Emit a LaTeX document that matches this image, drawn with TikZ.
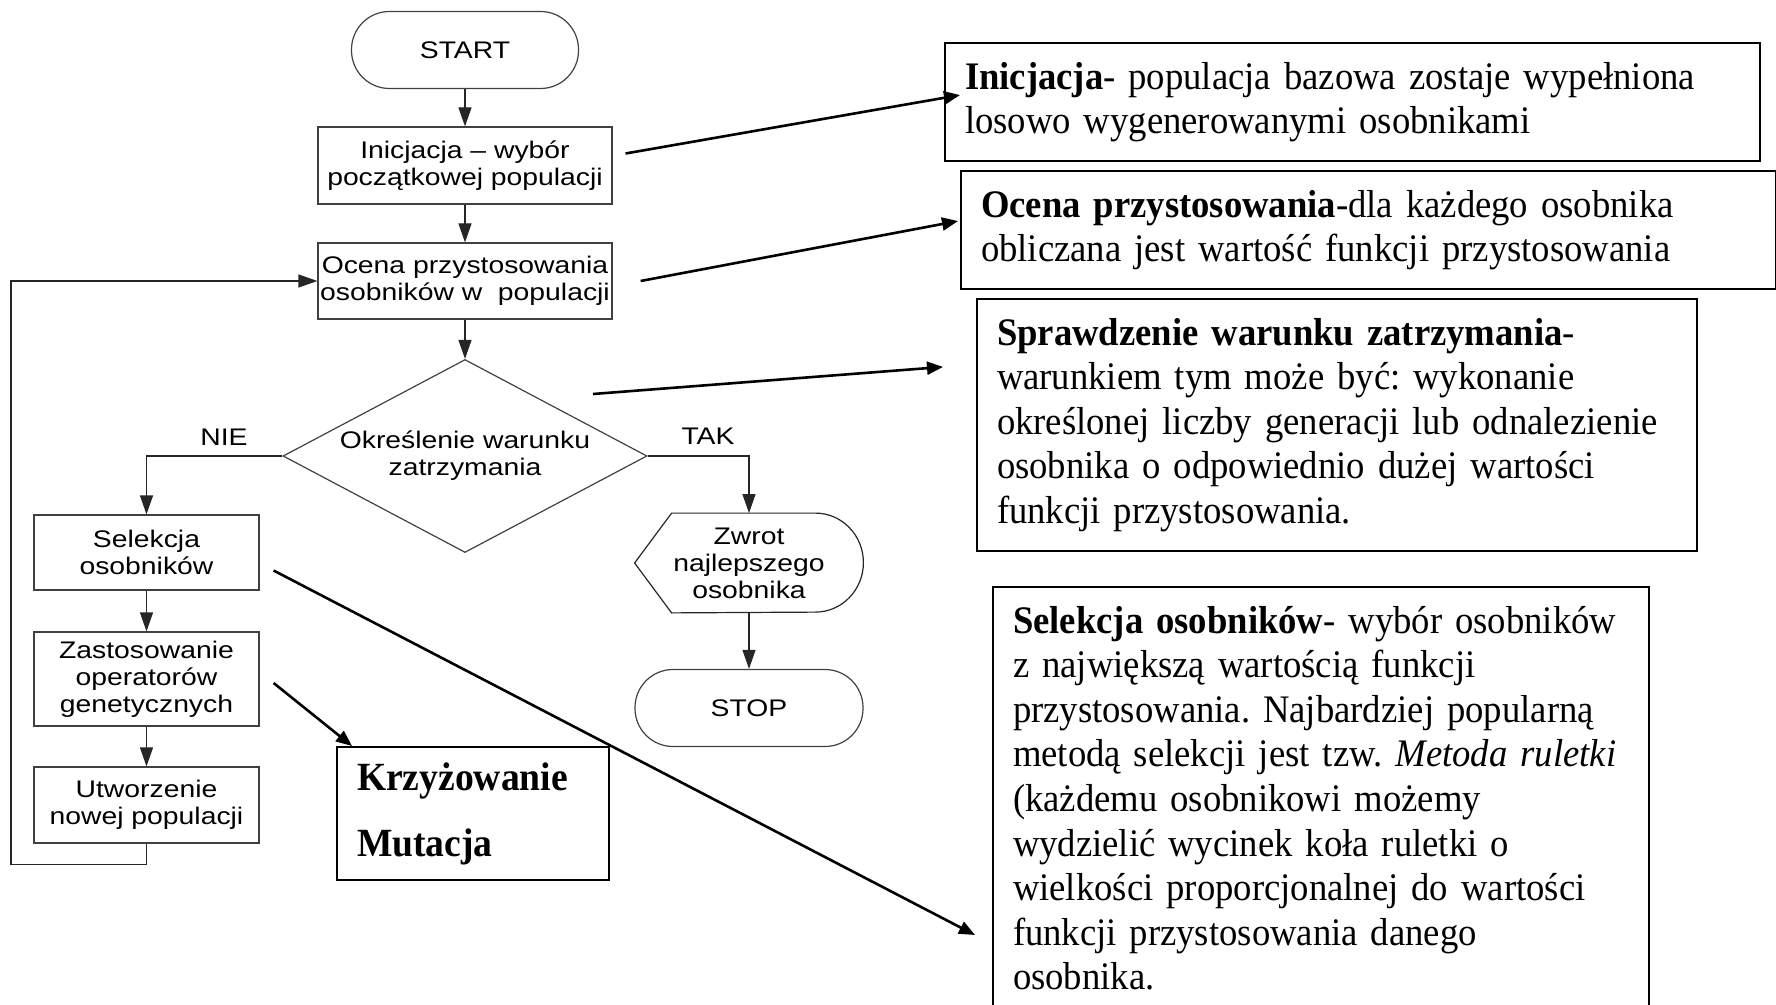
\documentclass[tikz,border=0pt]{standalone}
\usepackage{fontspec}
\setmainfont{Liberation Serif}[FakeStretch=0.94]
\newfontfamily\flowfont[FakeStretch=1.18]{Liberation Sans}
\usetikzlibrary{shapes.geometric,arrows.meta}
\frenchspacing

\begin{document}
\begin{tikzpicture}[x=0.5pt, y=-0.5pt,
	flow/.style={font=\flowfont\fontsize{12}{13.5}\selectfont, align=center, inner sep=0pt},
	proc/.style={flow, draw=black!75, line width=0.6pt, minimum width=112.5pt},
	term/.style={flow, draw=black!75, line width=0.6pt, rounded corners=19pt, minimum width=113.5pt, minimum height=38.5pt},
	line/.style={draw=black!85, line width=0.6pt},
	arr/.style={line, -{Triangle[length=9.5pt, width=6.5pt]}},
	note/.style={draw, line width=1pt, align=left, anchor=north west, inner xsep=10pt, inner ysep=9.5pt, font=\fontsize{19.5}{22.3}\selectfont},
	link/.style={line width=1.3pt, -{Triangle[length=8pt, width=6.5pt]}}
]
	\useasboundingbox (0,0) rectangle (1776,1005);
	\clip (0,0) rectangle (1776,1005);

	\draw (465,50) node[term] (start) {START};
	\draw (465,165.5) node[proc, minimum width=147pt, minimum height=38.5pt] (ini) {Inicjacja – wybór\\początkowej populacji};
	\draw (465,281) node[proc, minimum width=147pt, minimum height=38pt] (ocena) {Ocena przystosowania\\osobników w\ \ populacji};
	\draw (465,456) node[flow, diamond, aspect=1.886, draw=black!75, line width=0.6pt, minimum width=182pt, minimum height=96.5pt] (cond) {Określenie warunku\\zatrzymania};
	\draw (224,437) node[flow] (nie) {NIE};
	\draw (708,436) node[flow] (tak) {TAK};

	\draw (146.5,552.5) node[proc, minimum height=37.5pt] (sel) {Selekcja\\osobników};
	\draw (146.5,679) node[proc, minimum height=47pt] (zast) {Zastosowanie\\operatorów\\genetycznych};
	\draw (146.5,805) node[proc, minimum height=38pt] (utw) {Utworzenie\\nowej populacji};

	\draw (749,563) node[flow, minimum width=114pt, minimum height=49.5pt] (zwrot) {Zwrot\\najlepszego\\osobnika};
	\draw[line] ([xshift=18.5pt]zwrot.north west) -- ([xshift=-24pt]zwrot.north east) arc[start angle=90, end angle=-90, x radius=24pt, y radius=24.75pt] -- ([xshift=18.5pt]zwrot.south west) -- (zwrot.west) -- cycle;
	\draw (749,708) node[term, minimum width=114pt] (stop) {STOP};

	\draw[arr] (start) -- (ini);
	\draw[arr] (ini) -- (ocena);
	\draw[arr] (ocena) -- (cond);
	\draw[arr] (cond.west) -| (sel.north);
	\draw[arr] (cond.east) -| (zwrot.north);
	\draw[arr] (zwrot) -- (stop);
	\draw[arr] (sel) -- (zast);
	\draw[arr] (zast) -- (utw);
	\coordinate (loopx) at (11,0);
	\draw[arr] (utw.south) -- ++(0,21) -| (loopx |- ocena.west) -- (ocena.west);

	\draw (944,42) node[note, minimum height=55pt, text width=387.5pt] (d1) {\textbf{Inicjacja}- populacja bazowa zostaje wypełniona\\losowo wygenerowanymi osobnikami};
	\draw (960,170) node[note, minimum height=55pt, text width=387.5pt] (d2) {\textbf{Ocena przystosowania}-dla każdego osobnika\\obliczana jest wartość funkcji przystosowania};
	\draw (976,298) node[note, minimum height=122pt, text width=340pt] (d3) {\textbf{Sprawdzenie warunku zatrzymania}-\\warunkiem tym może być: wykonanie\\określonej liczby generacji lub odnalezienie\\osobnika o odpowiednio dużej wartości\\funkcji przystosowania.};
	\draw (992,586) node[note, text width=308pt] (d4) {\textbf{Selekcja osobników}- wybór osobników\\z największą wartością funkcji\\przystosowania. Najbardziej popularną\\metodą selekcji jest tzw. \textit{Metoda ruletki}\\(każdemu osobnikowi możemy\\wydzielić wycinek koła ruletki o\\wielkości proporcjonalnej do wartości\\funkcji przystosowania danego\\osobnika.};
	\draw (336,746) node[draw, line width=1pt, anchor=north west, minimum width=136pt, minimum height=66.5pt, text width=116pt, align=left, inner xsep=10pt, font=\bfseries\fontsize{20}{33}\selectfont] (ops) {Krzyżowanie\\Mutacja};

	\draw[link] ([xshift=6.5pt,yshift=6pt]ini.east) -- ([xshift=8pt,yshift=3.5pt]d1.west);
	\draw[link] ([xshift=14pt]ocena.east) -- ([xshift=-1pt,yshift=4.5pt]d2.west);
	\draw[link] ([xshift=64pt,yshift=31pt]cond.center) -- ([xshift=-16.5pt,yshift=29pt]d3.west);
	\draw[link] ([xshift=7pt,yshift=-9pt]sel.east) -- ([xshift=-8.5pt,yshift=-174.5pt]d4.north west);
	\draw[link] ([xshift=7pt,yshift=-2pt]zast.east) -- ([xshift=8pt]ops.north west);
\end{tikzpicture}
\end{document}
